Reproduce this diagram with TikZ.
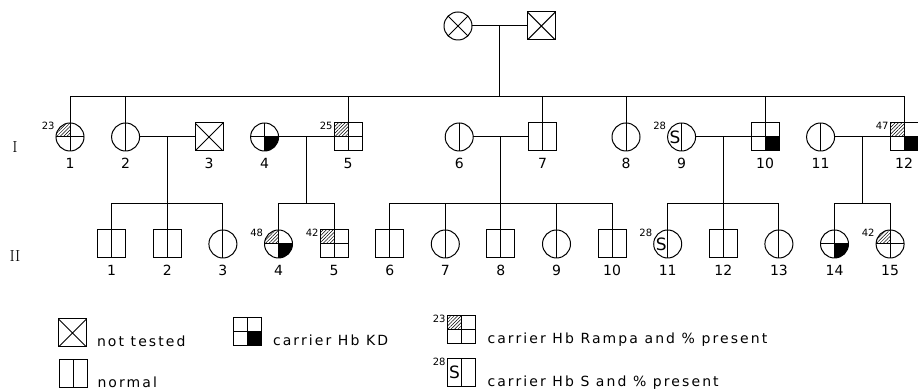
\documentclass[tikz,border=0pt]{standalone}
\usepackage{fontspec}
\usetikzlibrary{positioning,calc,patterns.meta}
\newfontfamily\legfam[LetterSpace=15]{DejaVu Sans}
\newfontfamily\numfam{DejaVu Sans}
\newcommand\ppbb{path picture bounding box}
\tikzset{
  fem/.style={circle,draw,minimum size=28pt,inner sep=0pt,outer sep=0pt},
  mal/.style={rectangle,draw,minimum size=28pt,inner sep=0pt,outer sep=0pt},
  nml/.style={path picture={\draw (\ppbb.north) -- (\ppbb.south);}},
  ntst/.style={path picture={\draw (\ppbb.north west) -- (\ppbb.south east)
      (\ppbb.north east) -- (\ppbb.south west);}},
  hatch/.style={pattern={Lines[angle=45,distance=2.4pt,line width=0.5pt]}},
  quad/.style 2 args={path picture={
      \path[#1] (\ppbb.center) rectangle (\ppbb.north west);
      \path[#2] (\ppbb.center) rectangle (\ppbb.south east);
      \draw (\ppbb.north) -- (\ppbb.south) (\ppbb.west) -- (\ppbb.east);}},
  kd/.style={quad={}{fill=black}},
  rmp/.style={quad={hatch}{}},
  rmpkd/.style={quad={hatch}{fill=black}},
  slbl/.style={font=\numfam\fontsize{17}{17}\selectfont,inner sep=0pt,anchor=center,xshift=-6.5pt},
  hbs/.style={nml,label={[slbl]center:S}},
  nlbl/.style={font=\numfam\fontsize{14}{14}\selectfont,inner sep=0pt,label distance=7pt},
  plbl/.style={font=\numfam\fontsize{10}{10}\selectfont,inner sep=1pt,anchor=east,yshift=11pt},
  num/.style={label={[nlbl]below:#1}},
  pct/.style={label={[plbl]west:#1}},
  gen/.style={font=\rmfamily\fontsize{16}{16}\selectfont},
  legtxt/.style={font=\legfam\fontsize{14}{16}\selectfont,inner sep=0pt},
}

\begin{document}
\begin{tikzpicture}[x=1pt,y=1pt,line width=1pt,node distance=27.6pt]
  \useasboundingbox (0,0) rectangle (918,390);
  % parents
  \node[fem,ntst] (p1) at (458,364) {};
  \node[mal,ntst,right=55.4pt of p1] (p2) {};

  % generation I
  \node[fem,rmp,num=1,pct=23] (i1) at (70,253) {};
  \node[fem,nml,num=2,right=of i1] (i2) {};
  \node[mal,ntst,num=3,right=55.4pt of i2] (i3) {};
  \node[fem,kd,num=4,right=of i3] (i4) {};
  \node[mal,rmp,num=5,pct=25,right=55.4pt of i4] (i5) {};
  \node[fem,nml,num=6,right=83.2pt of i5] (i6) {};
  \node[mal,nml,num=7,right=55.4pt of i6] (i7) {};
  \node[fem,nml,num=8,right=55.4pt of i7] (i8) {};
  \node[fem,hbs,num=9,pct=28,right=of i8] (i9) {};
  \node[mal,kd,num=10,right=55.4pt of i9] (i10) {};
  \node[fem,nml,num=11,right=of i10] (i11) {};
  \node[mal,rmpkd,num=12,pct=47,right=55.4pt of i11] (i12) {};

  % generation II
  \node[mal,nml,num=1] (ii1) at (111.7,146) {};
  \node[mal,nml,num=2,right=of ii1] (ii2) {};
  \node[fem,nml,num=3,right=of ii2] (ii3) {};
  \node[fem,rmpkd,num=4,pct=48,right=of ii3] (ii4) {};
  \node[mal,rmp,num=5,pct=42,right=of ii4] (ii5) {};
  \node[mal,nml,num=6,right=of ii5] (ii6) {};
  \node[fem,nml,num=7,right=of ii6] (ii7) {};
  \node[mal,nml,num=8,right=of ii7] (ii8) {};
  \node[fem,nml,num=9,right=of ii8] (ii9) {};
  \node[mal,nml,num=10,right=of ii9] (ii10) {};
  \node[fem,hbs,num=11,pct=28,right=of ii10] (ii11) {};
  \node[mal,nml,num=12,right=of ii11] (ii12) {};
  \node[fem,nml,num=13,right=of ii12] (ii13) {};
  \node[fem,kd,num=14,right=of ii13] (ii14) {};
  \node[fem,rmp,num=15,pct=42,right=of ii14] (ii15) {};

  \node[gen] (gI) at (15,243) {I};
  \node[gen] (gII) at (15,134) {II};

  % lines of descent
  \coordinate (bar1) at (0,293);
  \coordinate (bar2) at (0,186);
  \draw (p1) -- (p2);
  \coordinate (m0) at ($(p1.east)!0.5!(p2.west)$);
  \draw (m0) -- (m0 |- bar1);
  \draw (i1.north) -- (i1 |- bar1) -- (i12 |- bar1) -- (i12.north);
  \foreach \k in {2,5,7,8,10}
    \draw (i\k.north) -- (i\k |- bar1);
  \foreach \a/\b/\c/\d in {2/3/1/3,4/5/4/5,6/7/6/10,9/10/11/13,11/12/14/15} {
    \draw (i\a) -- (i\b);
    \coordinate (m\a) at ($(i\a.east)!0.5!(i\b.west)$);
    \draw (m\a) -- (m\a |- bar2);
    \draw (ii\c.north) -- (ii\c |- bar2) -- (ii\d |- bar2) -- (ii\d.north);
  }
  \foreach \k in {2,7,8,9,12}
    \draw (ii\k.north) -- (ii\k |- bar2);

  % legend
  \node[mal,ntst] (lnt) at (72.5,57) {};
  \node[legtxt,right=10pt of lnt.south east,anchor=base west] (tnt) {not tested};
  \node[mal,nml] (lnml) at (73,16) {};
  \node[legtxt,right=10pt of lnml.south east,anchor=base west] (tnml) {normal};
  \node[mal,kd] (lkd) at (247.5,58.5) {};
  \node[legtxt,right=11pt of lkd.south east,anchor=base west] (tkd) {carrier Hb KD};
  \node[mal,rmp,pct=23] (lrmp) at (461,60) {};
  \node[legtxt,right=12pt of lrmp.south east,anchor=base west] (trmp)
    {carrier Hb Rampa and \% present};
  \node[mal,hbs,pct=28] (lhbs) at (461,17.5) {};
  \node[legtxt,right=12pt of lhbs.south east,anchor=base west] (thbs)
    {carrier Hb S and \% present};
\end{tikzpicture}
\end{document}
